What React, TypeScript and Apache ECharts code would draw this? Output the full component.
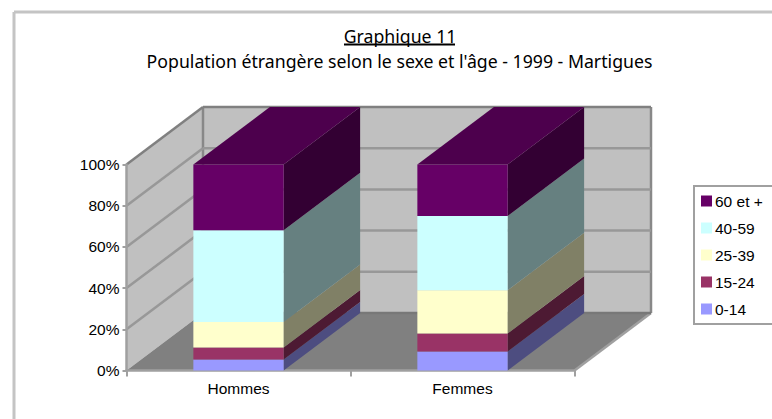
import React, { useEffect, useRef } from "react";
import * as echarts from "echarts";

const categories = ["Hommes", "Femmes"];
const ageGroups = ["0-14", "15-24", "25-39", "40-59", "60 et +"];
const age0to14 = [5.3, 9.2];
const age15to24 = [5.9, 8.8];
const age25to39 = [12.3, 21];
const age40to59 = [44.6, 36];
const age60plus = [31.9, 25];
const stacks = [age0to14, age15to24, age25to39, age40to59, age60plus];
const frontColors = ["#9999ff", "#993366", "#ffffcc", "#ccffff", "#660066"];
const sideColors = ["#4d4d80", "#4d1a33", "#808066", "#668080", "#330033"];
const topColor = "#4d004d";
const yTicks = [0, 20, 40, 60, 80, 100];
const legendOrder = ["60 et +", "40-59", "25-39", "15-24", "0-14"];

const DX = 76.5;
const DY = -57.5;
const FONT = '"Liberation Sans", Arial, sans-serif';
const TITLE_FONT = '"Noto Sans", sans-serif';
const TITLE_SIZE = 17.7;

function poly(points: number[][], fill: string) {
  return { type: "polygon", shape: { points }, style: { fill, stroke: "none" }, silent: true };
}

function renderWalls(params: any, api: any) {
  const tick = api.value(0);
  const grid = params.coordSys;
  const l = grid.x, r = grid.x + grid.width, b = grid.y + grid.height, t = grid.y;
  const y = api.coord([0, tick])[1];
  const children: any[] = [];
  const line = (x1: number, y1: number, x2: number, y2: number, stroke: string, lineWidth = 2.5) => ({
    type: "line", shape: { x1, y1, x2, y2 }, style: { stroke, lineWidth }, silent: true,
  });
  if (params.dataIndex === 0) {
    children.push(poly([[l, b], [l, t], [l + DX, t + DY], [l + DX, b + DY]], "#c0c0c0"));
    children.push(poly([[l + DX, t + DY], [r + DX, t + DY], [r + DX, b + DY], [l + DX, b + DY]], "#c0c0c0"));
    children.push(poly([[l, b], [r, b], [r + DX, b + DY], [l + DX, b + DY]], "#808080"));
    children.push(line(r, b, r + DX, b + DY, "#a0a0a0"));
    children.push(line(l + DX, t + DY, l + DX, b + DY, "#888888"));
    children.push(line(r + DX, t + DY, r + DX, b + DY, "#888888"));
  }
  const isTop = tick === yTicks[yTicks.length - 1];
  const c = isTop ? "#808080" : "#989898";
  if (tick !== 0) children.push(line(l, y, l + DX, y + DY, c));
  children.push(line(l + DX, y + DY, r + DX, y + DY, tick === 0 ? "#787878" : c));
  return { type: "group", children };
}

function renderSegment(stackIndex: number) {
  return (params: any, api: any) => {
    const cat = api.value(0);
    const value = api.value(1);
    const base = api.value(2);
    const band = api.size([1, 0])[0];
    const w = band * 0.403;
    const cx = api.coord([cat, 0])[0];
    const x0 = cx - w / 2, x1 = cx + w / 2;
    const y0 = api.coord([cat, base])[1];
    const y1 = api.coord([cat, base + value])[1];
    const children: any[] = [
      poly([[x1, y0], [x1, y1], [x1 + DX, y1 + DY], [x1 + DX, y0 + DY]], sideColors[stackIndex]),
      poly([[x0, y0], [x1, y0], [x1, y1], [x0, y1]], frontColors[stackIndex]),
    ];
    if (stackIndex === stacks.length - 1) {
      children.push(poly([[x0, y1], [x1, y1], [x1 + DX, y1 + DY], [x0 + DX, y1 + DY]], topColor));
    }
    return { type: "group", children };
  };
}

export default function App() {
  const ref = useRef<HTMLDivElement>(null);
  useEffect(() => {
    const chart = echarts.init(ref.current!, undefined, { renderer: "svg" });
    const barSeries = stacks.map((vals, s) => ({
      type: "custom",
      name: ageGroups[s],
      coordinateSystem: "cartesian2d",
      clip: false,
      z: 3,
      itemStyle: { color: frontColors[s] },
      encode: { x: 0, y: 1 },
      renderItem: renderSegment(s),
      data: vals.map((v, i) => [i, v, stacks.slice(0, s).reduce((a, st) => a + st[i], 0)]),
    }));
    chart.setOption({
      animation: false,
      backgroundColor: "#ffffff",
      title: [
        {
          text: "Graphique 11",
          left: 395, top: 22, textAlign: "center",
          textStyle: { fontFamily: TITLE_FONT, fontSize: TITLE_SIZE, fontWeight: "normal", color: "#000000" },
        },
        {
          text: "Population étrangère selon le sexe et l'âge - 1999 - Martigues",
          left: 394.5, top: 47, textAlign: "center",
          textStyle: { fontFamily: TITLE_FONT, fontSize: TITLE_SIZE, fontWeight: "normal", color: "#000000" },
        },
      ],
      graphic: [
        { type: "line", shape: { x1: 14, y1: 419, x2: 14, y2: 12 }, style: { stroke: "#c4c4c4", lineWidth: 3 }, z: -1 },
        { type: "line", shape: { x1: 14, y1: 12, x2: 772, y2: 12 }, style: { stroke: "#c4c4c4", lineWidth: 3 }, z: -1 },
        { type: "line", shape: { x1: 344, y1: 44.5, x2: 455, y2: 44.5 }, style: { stroke: "#000000", lineWidth: 2 } },
      ],
      legend: {
        orient: "vertical",
        left: 694,
        top: 186,
        data: legendOrder,
        icon: "rect",
        itemWidth: 11,
        itemHeight: 11,
        itemGap: 11,
        padding: [7, 30, 7, 7],
        backgroundColor: "#ffffff",
        borderColor: "#a0a0a0",
        borderWidth: 2,
        borderRadius: 0,
        selectedMode: false,
        textStyle: { fontFamily: FONT, fontSize: 15.5, color: "#000000", padding: [0, 0, 0, -2] },
      },
      grid: { left: 126.5, right: 197.5, top: 164.5, bottom: 48.5 },
      xAxis: {
        type: "category",
        data: categories,
        z: 2,
        axisLine: { lineStyle: { color: "#a0a0a0", width: 2.5 } },
        axisTick: { show: true, alignWithLabel: false, length: 6, lineStyle: { color: "#a0a0a0", width: 2 } },
        axisLabel: { fontFamily: FONT, fontSize: 15.5, color: "#000000", margin: 10 },
      },
      yAxis: {
        type: "value",
        min: 0,
        max: 100,
        interval: 20,
        z: 2,
        axisLine: { show: true, lineStyle: { color: "#a0a0a0", width: 2.5 } },
        axisTick: { show: true, length: 4, lineStyle: { color: "#a0a0a0", width: 2 } },
        splitLine: { show: false },
        axisLabel: { fontFamily: FONT, fontSize: 15.5, color: "#000000", margin: 7, formatter: "{value}%" },
      },
      series: [
        {
          type: "custom",
          name: "walls",
          coordinateSystem: "cartesian2d",
          clip: false,
          z: 1,
          silent: true,
          encode: { y: 0 },
          renderItem: renderWalls,
          data: yTicks.map((t) => [t]),
        },
        ...barSeries,
      ],
    });
    return () => chart.dispose();
  }, []);
  return <div ref={ref} style={{ position: "fixed", left: 0, top: 0, width: 772, height: 419 }} />;
}
